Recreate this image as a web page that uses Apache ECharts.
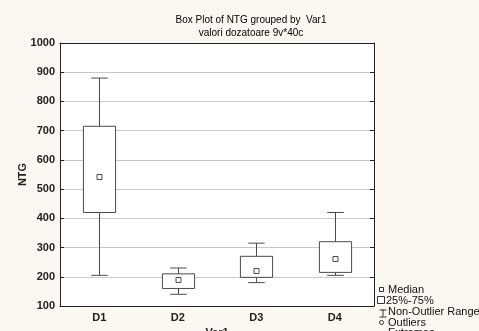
<!DOCTYPE html>
<html>
<head>
<meta charset="utf-8">
<script src="https://cdn.jsdelivr.net/npm/echarts@6/dist/echarts.min.js"></script>
<style>
  html, body { margin: 0; padding: 0; background: #fbf8f1; }
  #main { width: 479px; height: 331px; }
</style>
</head>
<body>
<div id="main"></div>
<script>
// categories and box stats
var categories = ['D1', 'D2', 'D3', 'D4'];
var whiskerLow = [205, 140, 180, 205];
var q1 = [420, 160, 198, 215];
var median = [540, 188, 220, 262];
var q3 = [715, 210, 270, 320];
var whiskerHigh = [880, 230, 315, 420];
var yTicks = { min: 100, max: 1000, interval: 100 };

var boxData = categories.map(function (c, i) {
  return [i, whiskerLow[i], q1[i], median[i], q3[i], whiskerHigh[i]];
});

var lineCol = '#4a4a4a';
var font = 'Liberation Sans, Arial, sans-serif';

function renderBox(params, api) {
  var x = api.value(0);
  var pLow = api.coord([x, api.value(1)]);
  var pQ1 = api.coord([x, api.value(2)]);
  var pMed = api.coord([x, api.value(3)]);
  var pQ3 = api.coord([x, api.value(4)]);
  var pHigh = api.coord([x, api.value(5)]);
  var band = api.size([1, 0])[0];
  var bw = band * 0.41;
  var cw = band * 0.21;
  var cx = Math.round(pMed[0]) + 0.5;
  var st = { stroke: lineCol, lineWidth: 1, fill: null };
  return {
    type: 'group',
    children: [
      { type: 'line', shape: { x1: cx, y1: pHigh[1], x2: cx, y2: pQ3[1] }, style: st },
      { type: 'line', shape: { x1: cx, y1: pQ1[1], x2: cx, y2: pLow[1] }, style: st },
      { type: 'line', shape: { x1: cx - cw / 2, y1: pHigh[1], x2: cx + cw / 2, y2: pHigh[1] }, style: st },
      { type: 'line', shape: { x1: cx - cw / 2, y1: pLow[1], x2: cx + cw / 2, y2: pLow[1] }, style: st },
      { type: 'rect', shape: { x: cx - bw / 2, y: pQ3[1], width: bw, height: pQ1[1] - pQ3[1] },
        style: { stroke: lineCol, lineWidth: 1, fill: '#fff' } },
      { type: 'rect', shape: { x: cx - 2.5, y: Math.round(pMed[1]) - 2.5, width: 5, height: 5 },
        style: { stroke: lineCol, lineWidth: 1, fill: '#fff' } }
    ]
  };
}

var myChart = echarts.init(document.getElementById('main'));
var option = {
  backgroundColor: '#fbf8f1',
  animation: false,
  title: {
    text: 'Box Plot of NTG grouped by  Var1\nvalori dozatoare 9v*40c',
    left: 246,
    textAlign: 'center',
    top: 9,
    textStyle: { fontFamily: font, fontSize: 10, fontWeight: 'normal', color: '#000', lineHeight: 13 }
  },
  grid: {
    left: 60, right: 105, top: 43, bottom: 25,
    outerBoundsMode: 'none', containLabel: false,
    backgroundColor: '#fff', show: true, borderWidth: 0
  },
  xAxis: [
    {
      type: 'category',
      data: categories,
      boundaryGap: true,
      axisLine: { lineStyle: { color: '#222' } },
      axisTick: { alignWithLabel: true, length: 3, lineStyle: { color: '#222' } },
      axisLabel: { fontFamily: font, fontSize: 11, fontWeight: 'bold', color: '#222', margin: 6 },
      name: 'Var1',
      nameLocation: 'middle',
      nameGap: 21,
      nameMoveOverlap: false,
      nameTextStyle: { fontFamily: font, fontSize: 11, fontWeight: 'bold', color: '#222' }
    },
    {
      type: 'category',
      data: categories,
      position: 'top',
      boundaryGap: true,
      axisLine: { lineStyle: { color: '#222' } },
      axisTick: { alignWithLabel: true, inside: true, length: 4, lineStyle: { color: '#222' } },
      axisLabel: { show: false }
    }
  ],
  yAxis: [
    {
      type: 'value',
      min: yTicks.min,
      max: yTicks.max,
      interval: yTicks.interval,
      name: 'NTG',
      nameLocation: 'middle',
      nameGap: 32,
      nameMoveOverlap: false,
      nameTextStyle: { fontFamily: font, fontSize: 11, fontWeight: 'bold', color: '#222' },
      axisLine: { show: true, lineStyle: { color: '#222' } },
      axisTick: { show: true, inside: true, length: 4, lineStyle: { color: '#222' } },
      axisLabel: {
        fontFamily: font, fontSize: 11, fontWeight: 'bold', color: '#222', margin: 5,
        formatter: function (v) { return String(v); }
      },
      splitLine: { show: true, lineStyle: { color: '#c8c8c8' } }
    },
    {
      type: 'value',
      position: 'right',
      min: yTicks.min,
      max: yTicks.max,
      interval: yTicks.interval,
      axisLine: { show: true, lineStyle: { color: '#222' } },
      axisTick: { show: true, inside: true, length: 4, lineStyle: { color: '#222' } },
      axisLabel: { show: false },
      splitLine: { show: false }
    }
  ],
  series: [
    {
      type: 'custom',
      name: 'NTG',
      renderItem: renderBox,
      data: boxData,
      encode: { x: 0, y: [1, 2, 3, 4, 5] },
      z: 5
    }
  ],
  graphic: [
    { type: 'rect', left: 379, top: 287, shape: { width: 4, height: 4 }, style: { stroke: '#333', fill: '#fff', lineWidth: 1 } },
    { type: 'text', left: 388, top: 284, style: { text: 'Median', font: '11px ' + font, fill: '#111' } },
    { type: 'rect', left: 377, top: 296, shape: { width: 7, height: 7 }, style: { stroke: '#333', fill: '#fff', lineWidth: 1 } },
    { type: 'text', left: 386, top: 295, style: { text: '25%-75%', font: '11px ' + font, fill: '#111' } },
    { type: 'group', left: 377, top: 307, children: [
      { type: 'line', shape: { x1: 0, y1: 0.5, x2: 7, y2: 0.5 }, style: { stroke: '#333' } },
      { type: 'line', shape: { x1: 3.5, y1: 0, x2: 3.5, y2: 7 }, style: { stroke: '#333' } },
      { type: 'line', shape: { x1: 0, y1: 7.5, x2: 7, y2: 7.5 }, style: { stroke: '#333' } }
    ] },
    { type: 'text', left: 388, top: 306, style: { text: 'Non-Outlier Range', font: '11px ' + font, fill: '#111' } },
    { type: 'circle', left: 379, top: 320, shape: { r: 2 }, style: { stroke: '#333', fill: '#fff', lineWidth: 1 } },
    { type: 'text', left: 388, top: 317, style: { text: 'Outliers', font: '11px ' + font, fill: '#111' } },
    { type: 'text', left: 388, top: 327, style: { text: 'Extremes', font: '11px ' + font, fill: '#111' } }
  ]
};
myChart.setOption(option);
window.addEventListener('resize', function () {
  myChart.resize();
});
</script>
</body>
</html>
